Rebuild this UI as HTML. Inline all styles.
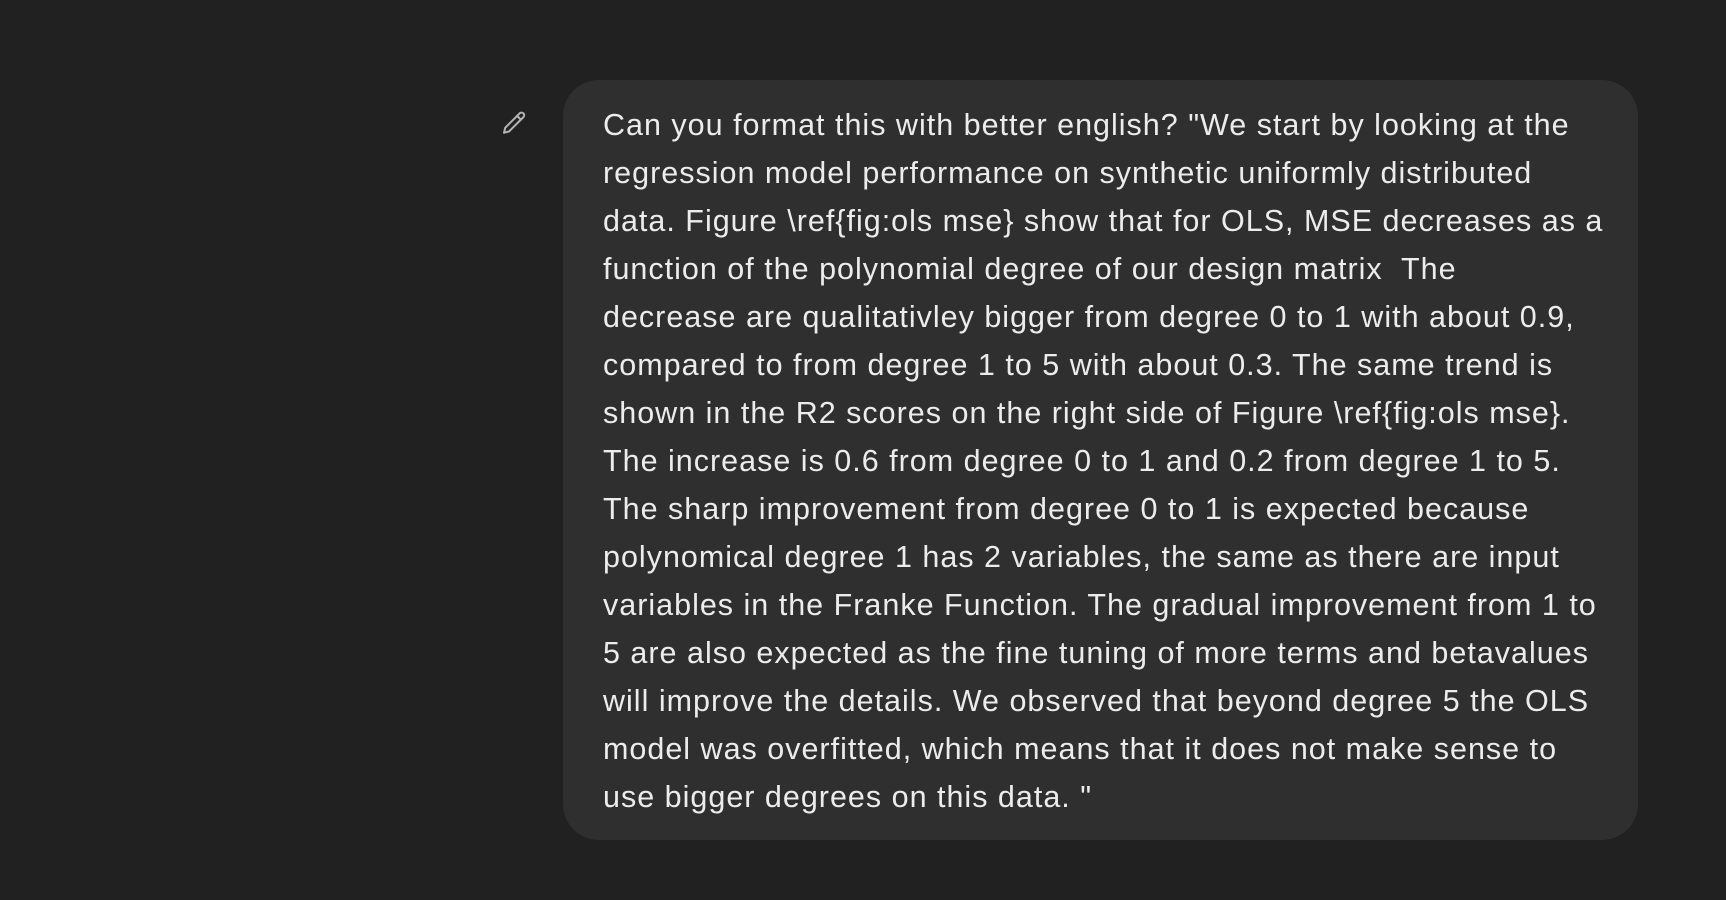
<!DOCTYPE html>
<html>
<head>
<meta charset="utf-8">
<style>
  html,body{margin:0;padding:0;background:#212121;width:1726px;height:900px;overflow:hidden;}
  .bubble{position:absolute;left:563px;top:80px;width:1075px;height:760px;background:#2f2f2f;border-radius:36px;box-sizing:border-box;}
  .text{position:absolute;left:603px;top:101px;font-family:"Liberation Sans",sans-serif;font-size:30.5px;letter-spacing:1.0px;line-height:48px;color:#ececec;white-space:nowrap;}
  .line{height:48px;}
  .pencil{position:absolute;left:499px;top:109px;width:30px;height:30px;}
</style>
</head>
<body>
<svg class="pencil" viewBox="0 0 24 24" fill="none" stroke="#b4b4b4" stroke-width="1.6" stroke-linecap="round" stroke-linejoin="round">
  <path d="M16.5 3.5a2.1 2.1 0 0 1 3 3L8 18l-4 1 1-4z"/>
  <path d="M14.5 5.5l3 3"/>
</svg>
<div class="bubble"></div>
<div class="text">
<div class="line">Can you format this with better english? "We start by looking at the</div>
<div class="line">regression model performance on synthetic uniformly distributed</div>
<div class="line">data. Figure \ref{fig:ols mse} show that for OLS, MSE decreases as a</div>
<div class="line">function of the polynomial degree of our design matrix&nbsp; The</div>
<div class="line">decrease are qualitativley bigger from degree 0 to 1 with about 0.9,</div>
<div class="line">compared to from degree 1 to 5 with about 0.3. The same trend is</div>
<div class="line">shown in the R2 scores on the right side of Figure \ref{fig:ols mse}.</div>
<div class="line">The increase is 0.6 from degree 0 to 1 and 0.2 from degree 1 to 5.</div>
<div class="line">The sharp improvement from degree 0 to 1 is expected because</div>
<div class="line">polynomical degree 1 has 2 variables, the same as there are input</div>
<div class="line">variables in the Franke Function. The gradual improvement from 1 to</div>
<div class="line">5 are also expected as the fine tuning of more terms and betavalues</div>
<div class="line">will improve the details. We observed that beyond degree 5 the OLS</div>
<div class="line">model was overfitted, which means that it does not make sense to</div>
<div class="line">use bigger degrees on this data. "</div>
</div>
</body>
</html>
